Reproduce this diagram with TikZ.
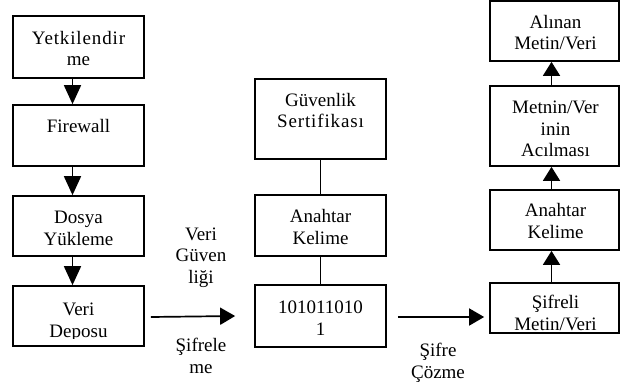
\documentclass[tikz,border=0pt]{standalone}
\usepackage{fontspec}
\setmainfont{Liberation Serif}
\newfontfamily\spacedfont[LetterSpace=4.5]{Liberation Serif}
\usetikzlibrary{arrows.meta,calc}
\tikzset{
  box/.style={draw,line width=1.7pt,inner sep=0pt,minimum width=#1},
  box/.default=131pt,
  txt/.style={anchor=base,align=center,inner sep=0pt,font=\fontsize{19}{21.5}\selectfont},
  con/.style={line width=1.7pt},
  arr/.style={line width=1.7pt,-{Triangle[width=17pt,length=#1]}},
  arr/.default=15pt
}
\begin{document}
\begin{tikzpicture}[x=1pt,y=-1pt]
\useasboundingbox (0,0) rectangle (623,382);
% left column
\node[box,minimum height=62pt] (b1) at (78.5,47) {};
\node[box,minimum height=61pt] (b2) at (78.5,135.5) {};
\node[box,minimum height=60pt] (b3) at (78.5,226) {};
\node[box,minimum height=60pt] (b4) at (78.5,316) {};
\node[txt] (t1) at (78.5,66) {{\spacedfont Yetkilendir}\\me};
\node[txt] (t2) at (78.5,133) {Firewall};
\node[txt] (t3) at (78.5,245) {Dosya\\Yükleme};
\begin{scope}
\clip ($(b4.south west)+(0,-8)$) rectangle (b4.north east);
\node[txt] (t4) at (78.5,337) {Veri\\Deposu};
\end{scope}
% middle column
\node[box,minimum height=80pt] (m1) at (320.5,119) {};
\node[box,minimum height=61pt] (m2) at (320.5,225.5) {};
\node[box,minimum height=62pt] (m3) at (320.5,316) {};
\node[txt] (s1) at (320.5,128) {Güvenlik\\{\spacedfont Sertifikası}};
\node[txt] (s2) at (320.5,244) {Anahtar\\Kelime};
\node[txt] (s3) at (320.5,335) {101011010\\1};
% right column
\node[box=129pt,minimum height=60pt] (r1) at (554.5,31) {};
\node[box=129pt,minimum height=80pt] (r2) at (554.5,126) {};
\node[box=129pt,minimum height=60pt] (r3) at (554.5,220) {};
\node[box=129pt,minimum height=50pt] (r4) at (554.5,308) {};
\node[txt] (u1) at (555.5,50) {Alınan\\Metin/Veri};
\node[txt] (u2) at (555.5,157) {Metnin/Ver\\inin\\Acılması};
\node[txt] (u3) at (555.5,238) {Anahtar\\Kelime};
\node[txt] (u4) at (555.5,330) {Şifreli\\Metin/Veri};
% labels
\node[txt] (l1) at (201,283) {Veri\\Güven\\liği};
\node[txt] (l2) at (201,373) {Şifrele\\me};
\node[txt] (l3) at (438,378) {Şifre\\Çözme};
% connectors left
\draw[arr=19pt] ([xshift=-6pt]b1.south) -- ([xshift=-6pt]b2.north);
\draw[arr=19pt] ([xshift=-6pt]b2.south) -- ([xshift=-6pt]b3.north);
\draw[arr=19pt] ([xshift=-6pt]b3.south) -- ([xshift=-6pt]b4.north);
% middle
\draw[con] (m1.south) -- (m2.north);
\draw[con] (m2.south) -- (m3.north);
% right
\draw[arr=14pt] ([xshift=-3pt]r4.north) -- ([xshift=-3pt]r3.south);
\draw[arr=14pt] ([xshift=-3pt]r3.north) -- ([xshift=-3pt]r2.south);
\draw[arr=14pt] ([xshift=-3pt]r2.north) -- ([xshift=-3pt]r1.south);
% horizontal
\draw[arr] ([xshift=6pt,yshift=-1pt]b4.east) -- ([xshift=-19pt]b4.east -| m3.west);
\draw[arr] ([xshift=11pt,yshift=-1pt]m3.east) -- ([xshift=-5pt,yshift=-1pt]m3.east -| r4.west);
\end{tikzpicture}
\end{document}
